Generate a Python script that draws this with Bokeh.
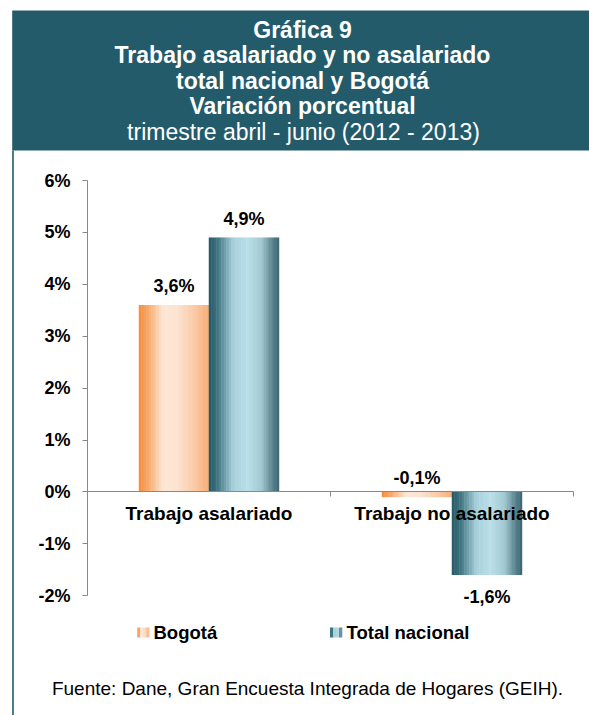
from bokeh.plotting import figure
from bokeh.models import (ColumnDataSource, Range1d, FixedTicker,
                          PrintfTickFormatter, BoxAnnotation, Label)
from bokeh.transform import dodge
from bokeh.core.properties import value
from bokeh.embed import file_html
from bokeh.resources import INLINE

# ---------------- data ----------------
categories = ["Trabajo asalariado", "Trabajo no asalariado"]
bogota = [3.6, -0.1]
total_nacional = [4.9, -1.6]
series_names = ["Bogotá", "Total nacional"]
y_ticks = [-2, -1, 0, 1, 2, 3, 4, 5, 6]

title_lines = ["Gráfica 9", "Trabajo asalariado y no asalariado",
               "total nacional y Bogotá", "Variación porcentual"]
subtitle = "trimestre abril - junio (2012 - 2013)"
source_text = "Fuente: Dane, Gran Encuesta Integrada de Hogares (GEIH)."

FONT = "Liberation Sans"
TEAL = "#235B6A"
AX = "#898989"

# gradient stops (style)
bog_stops = [(0.0, "#F58C3C"), (0.12, "#F7A565"), (0.35, "#FDE7D6"),
             (0.55, "#FCE3D0"), (0.8, "#FAC9A4"), (1.0, "#F8AE74")]
tot_stops = [(0.0, "#255766"), (0.12, "#3F7380"), (0.35, "#A8D0DB"),
             (0.55, "#B9DFE9"), (0.75, "#A3C9D3"), (0.9, "#5E8792"), (1.0, "#3A6470")]


def hex2rgb(h):
    h = h.lstrip("#")
    return tuple(int(h[i:i + 2], 16) for i in (0, 2, 4))


def grad(stops, t):
    for (p0, c0), (p1, c1) in zip(stops[:-1], stops[1:]):
        if p0 <= t <= p1:
            f = (t - p0) / (p1 - p0) if p1 > p0 else 0
            a, b = hex2rgb(c0), hex2rgb(c1)
            return "#%02x%02x%02x" % tuple(int(round(a[i] + (b[i] - a[i]) * f)) for i in range(3))
    return stops[-1][1]


W, H = 589, 715
# plot area on canvas (pixels): x axis spans [0, n_cat], y axis spans [-2, 6]
PX_L, PX_R = 87, 573
PY_T, PY_B = 180, 595.3
n_cat = len(categories)
xu = (PX_R - PX_L) / n_cat
yu = (PY_B - PY_T) / (y_ticks[-1] - y_ticks[0])
x_range = Range1d(-PX_L / xu, n_cat + (W - PX_R) / xu)
y_range = Range1d(y_ticks[0] - (H - PY_B) / yu, y_ticks[-1] + PY_T / yu)

p = figure(width=W, height=H, x_range=x_range, y_range=y_range,
           output_backend="svg", toolbar_location=None,
           min_border=0, min_border_left=0, min_border_right=0,
           min_border_top=0, min_border_bottom=0)
p.outline_line_color = None
p.xgrid.visible = False
p.ygrid.visible = False
p.background_fill_color = "white"
p.border_fill_color = "white"

pos = [i + 0.5 for i in range(n_cat)]
src = ColumnDataSource(dict(pos=pos, bog=bogota, tot=total_nacional))

BAR_W = 0.288
N = 28
sw = BAR_W / N
for s_idx, (col, stops) in enumerate([("bog", bog_stops), ("tot", tot_stops)]):
    base = -BAR_W / 2 if s_idx == 0 else BAR_W / 2
    for k in range(N):
        off = base - BAR_W / 2 + (k + 0.5) * sw
        color = grad(stops, (k + 0.5) / N)
        p.vbar(x=dodge("pos", off), top=col, bottom=0,
               width=sw * 1.2, source=src, fill_color=color, line_color=None)

# data labels
for s_idx, vals in enumerate([bogota, total_nacional]):
    d = -BAR_W / 2 if s_idx == 0 else BAR_W / 2
    txt = [("%.1f%%" % v).replace(".", ",") for v in vals]
    off = [-19 if v > -0.5 else 21.5 for v in vals]
    p.text(x=dodge("pos", d), y="v", text="t", y_offset="off",
           source=ColumnDataSource(dict(pos=pos, v=vals, t=txt, off=off)),
           text_font=value(FONT), text_font_style="bold", text_font_size="18px",
           text_align="center", text_baseline="middle", text_color="black")

# y axis
ya = p.yaxis[0]
ya.fixed_location = 0
ya.bounds = (y_ticks[0], y_ticks[-1])
ya.ticker = FixedTicker(ticks=y_ticks)
ya.formatter = PrintfTickFormatter(format="%d%%")
ya.axis_line_color = AX
ya.major_tick_line_color = AX
ya.major_tick_out = 5
ya.major_tick_in = 0
ya.minor_tick_line_color = None
ya.major_label_standoff = 12
ya.major_label_text_font = FONT
ya.major_label_text_font_style = "bold"
ya.major_label_text_font_size = "18px"
ya.major_label_text_color = "black"

# x (category) axis crossing at 0
xa = p.xaxis[0]
xa.fixed_location = 0
xa.bounds = (0, n_cat)
xa.ticker = FixedTicker(ticks=pos, minor_ticks=list(range(n_cat + 1)))
xa.major_label_overrides = {pp: c for pp, c in zip(pos, categories)}
xa.axis_line_color = AX
xa.major_tick_line_color = None
xa.minor_tick_line_color = AX
xa.minor_tick_out = 5
xa.minor_tick_in = 0
xa.major_tick_out = 0
xa.major_tick_in = 0
xa.major_label_standoff = 6
xa.major_label_text_font = FONT
xa.major_label_text_font_style = "bold"
xa.major_label_text_font_size = "19px"
xa.major_label_text_color = "black"


def sy(cy):
    return H - cy


def box(l, r, t, b, color):
    p.add_layout(BoxAnnotation(left=l, right=r, top=sy(t), bottom=sy(b),
                               left_units="screen", right_units="screen",
                               top_units="screen", bottom_units="screen",
                               fill_color=color, fill_alpha=1, line_color=None))


def label(x, cy, text, size, bold, color="black", align="center"):
    p.add_layout(Label(x=x, y=sy(cy), x_units="screen", y_units="screen", text=text,
                       text_font=FONT, text_font_style="bold" if bold else "normal",
                       text_font_size=size, text_color=color, text_align=align,
                       text_baseline="middle"))


# title box and left rule
box(11.7, W + 2, 10, 150, TEAL)
box(11.7, 13.3, 150, H + 2, TEAL)

title_mid = [29.5, 54.5, 80, 105.5]
for txt, cy in zip(title_lines, title_mid):
    label(302, cy, txt, "23px", True, "white")
label(303, 131, subtitle, "23px", False, "white")


# legend (manual)
def swatch(x0, stops):
    n = 4
    for k in range(n):
        c = grad(stops, (k + 0.5) / n)
        box(x0 + k * 3, x0 + (k + 1) * 3 + 0.3, 627, 637, c)


swatch(136.7, bog_stops)
swatch(329.5, tot_stops)
label(153, 631.5, series_names[0], "18.5px", True, align="left")
label(346, 631.5, series_names[1], "18.5px", True, align="left")

# source
label(307, 687.5, source_text, "19px", False)

open("out.html", "w").write(file_html(p, INLINE))
